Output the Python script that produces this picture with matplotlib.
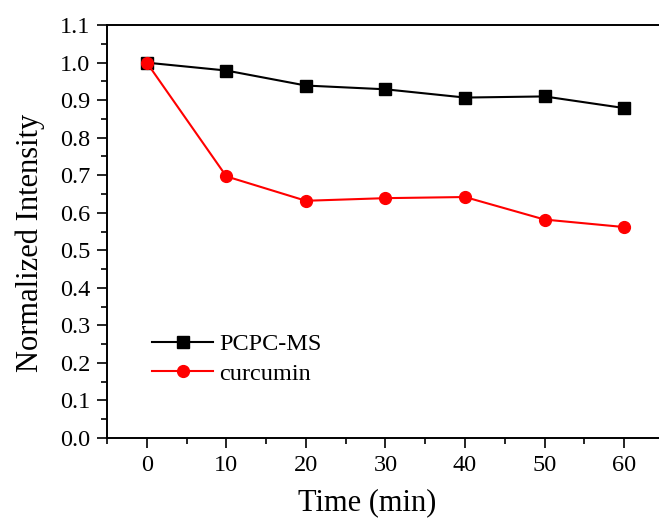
import numpy as np
import matplotlib
matplotlib.use('Agg')
import matplotlib.pyplot as plt
from matplotlib.ticker import MultipleLocator

plt.rcParams['font.family'] = ['Liberation Serif', 'DejaVu Serif']
plt.rcParams['mathtext.fontset'] = 'stix'

# irradiation time (min) and normalized intensity
time_min = [0, 10, 20, 30, 40, 50, 60]
pcpc_ms = [1.000, 0.979, 0.939, 0.929, 0.907, 0.910, 0.879]
curcumin = [1.000, 0.697, 0.632, 0.639, 0.642, 0.582, 0.562]


def plot_decay():
    fig = plt.figure(figsize=(6.59, 5.20), dpi=100)
    # axes box runs slightly past the right edge of the canvas
    ax = fig.add_axes([0.1624, 0.1577, 0.845, 0.794])

    ax.plot(time_min, pcpc_ms, color='black', lw=1.5, marker='s',
            markersize=8, label='PCPC-MS', zorder=3)
    ax.plot(time_min, curcumin, color='red', lw=1.5, marker='o',
            markersize=8.5, label='curcumin', zorder=4)

    ax.set_xlim(-5, 65)
    ax.set_ylim(0.0, 1.1)
    ax.xaxis.set_major_locator(MultipleLocator(10))
    ax.xaxis.set_minor_locator(MultipleLocator(5))
    ax.yaxis.set_major_locator(MultipleLocator(0.1))
    ax.yaxis.set_minor_locator(MultipleLocator(0.05))
    ax.yaxis.set_major_formatter(plt.FormatStrFormatter('%.1f'))

    ax.tick_params(which='major', direction='out', length=7, width=1.2,
                   labelsize=17.5, pad=5)
    ax.tick_params(which='minor', direction='out', length=4, width=1.2)
    for sp in ax.spines.values():
        sp.set_linewidth(1.4)

    ax.set_xlabel('Time (min)', fontsize=22)
    ax.set_ylabel('Normalized Intensity', fontsize=22)
    ax.xaxis.set_label_coords(0.467, -0.122)
    ax.yaxis.set_label_coords(-0.111, 0.472)

    ax.legend(loc='center left', bbox_to_anchor=(0.042, 0.191), frameon=False,
              fontsize=17.5, handlelength=2.5, handletextpad=0.25,
              labelspacing=0.3)

    fig.savefig('out.png', dpi=100)


if __name__ == '__main__':
    plot_decay()
